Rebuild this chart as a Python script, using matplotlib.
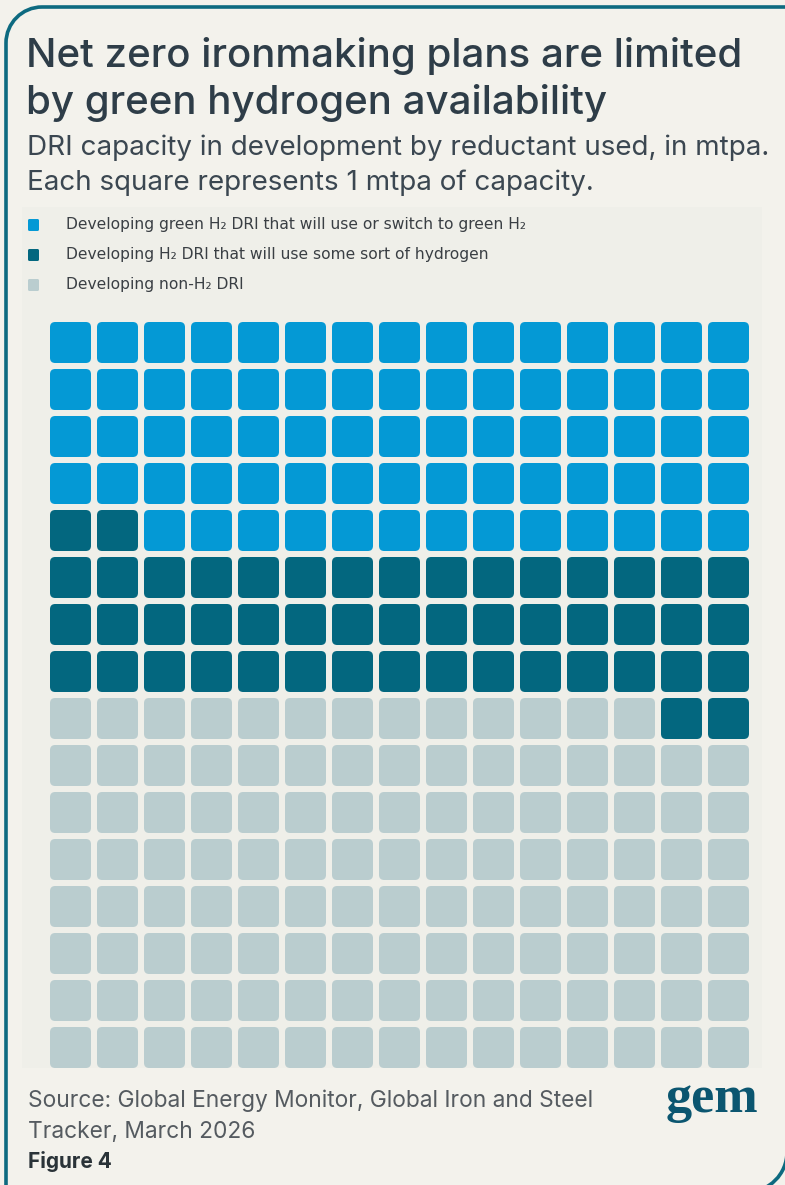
import matplotlib
matplotlib.use("Agg")
import matplotlib.pyplot as plt
from matplotlib.patches import FancyBboxPatch, Rectangle, PathPatch
from matplotlib.path import Path

# --- data -------------------------------------------------------------
categories = [
    "Developing green H\u2082 DRI that will use or switch to green H\u2082",
    "Developing H\u2082 DRI that will use some sort of hydrogen",
    "Developing non-H\u2082 DRI",
]
capacity_mtpa = [73, 49, 118]          # one square = 1 mtpa
colors = ["#0499d5", "#03677f", "#bacdcf"]
n_cols = 15
n_rows = 16

title_lines = ["Net zero ironmaking plans are limited",
               "by green hydrogen availability"]
subtitle_1 = "DRI capacity in development by reductant used, in mtpa."
subtitle_2 = "Each square represents 1 mtpa of capacity."
source_1 = "Source: Global Energy Monitor, Global Iron and Steel"
source_2 = "Tracker, March 2026"
figure_label = "Figure 4"

# --- styling ------------------------------------------------------------
BG = "#f3f2ec"
PANEL = "#efefe9"
BORDER = "#0d6a80"
TITLE_C = "#2e3d48"
TEXT_C = "#3b4751"
SANS = ["Inter", "DejaVu Sans"]
W, H = 785, 1185

fig = plt.figure(figsize=(W / 100, H / 100), dpi=100)
fig.patch.set_facecolor(BG)

# pixel-space canvas for the card decoration and text
ax = fig.add_axes([0, 0, 1, 1])
ax.set_xlim(0, W)
ax.set_ylim(H, 0)
ax.axis("off")

# card border: rounded top-left and bottom-right corners
k = 0.5523
R = 36
x0, y0 = 6, 7
verts = [(x0, H + 20), (x0, y0 + R),
         (x0, y0 + R - k * R), (x0 + R - k * R, y0), (x0 + R, y0),
         (W + 30, y0)]
codes = [Path.MOVETO, Path.LINETO, Path.CURVE4, Path.CURVE4, Path.CURVE4, Path.LINETO]
ax.add_patch(PathPatch(Path(verts, codes), fill=False, ec=BORDER, lw=2.6,
                       capstyle="butt", joinstyle="round"))
R2 = 40
x1, y1 = 787, 1192
verts2 = [(x1, y1 - 200), (x1, y1 - R2),
          (x1, y1 - R2 + k * R2), (x1 - R2 + k * R2, y1), (x1 - R2, y1),
          (x1 - 300, y1)]
ax.add_patch(PathPatch(Path(verts2, codes), fill=False, ec=BORDER, lw=2.6))

# faint chart panel
ax.add_patch(Rectangle((22, 207), 740, 861, fc=PANEL, ec="none"))

# titles
for line, yb in zip(title_lines, [67, 114]):
    ax.text(26, yb, line, fontsize=29, family=SANS, weight="medium",
            color=TITLE_C, va="baseline")
ax.text(27, 155, subtitle_1, fontsize=20, family=SANS,
        color=TEXT_C, va="baseline")
ax.text(27, 190, subtitle_2, fontsize=20, family=SANS,
        color=TEXT_C, va="baseline")

# legend
leg_fam = ["Liberation Sans Narrow", "DejaVu Sans"]
for i, (lab, col) in enumerate(zip(categories, colors)):
    yc = 225 + i * 30
    ax.add_patch(FancyBboxPatch((28, yc - 6), 11, 12,
                                boxstyle="round,pad=0,rounding_size=1.5",
                                fc=col, ec="none"))
    ax.text(66, yc, lab, fontsize=11.2, family=leg_fam, color="#3a3f44",
            va="center")

# footer
ax.text(28, 1107, source_1, fontsize=16.4, family=SANS,
        color="#555b60", va="baseline")
ax.text(28, 1138, source_2, fontsize=16.4, family=SANS,
        color="#555b60", va="baseline")
ax.text(28, 1168, figure_label, fontsize=15, family=SANS,
        weight="bold", color="#2a3338", va="baseline")
ax.text(712, 1112, "gem", fontsize=37.5, family=["Liberation Serif", "DejaVu Serif"],
        weight="bold", color="#0b5670", ha="center", va="baseline")

# --- waffle -------------------------------------------------------------
pitch = 47
wx, wy = 50, 322
wax = fig.add_axes([wx / W, 1 - (wy + n_rows * pitch) / H,
                    n_cols * pitch / W, n_rows * pitch / H])
wax.set_xlim(0, n_cols)
wax.set_ylim(n_rows, 0)
wax.axis("off")

# squares fill from the bottom row upward, left to right,
# starting with non-H2, then H2, then green H2
order = [2, 1, 0]
cell_cat = []
for c in order:
    cell_cat += [c] * capacity_mtpa[c]

size = 41 / pitch
for n, c in enumerate(cell_cat):
    row = n_rows - 1 - n // n_cols
    col = n % n_cols
    wax.add_patch(FancyBboxPatch((col, row), size, size,
                                 boxstyle="round,pad=0,rounding_size=0.11",
                                 fc=colors[c], ec="none"))

fig.savefig("out.png", dpi=100, facecolor=BG)
